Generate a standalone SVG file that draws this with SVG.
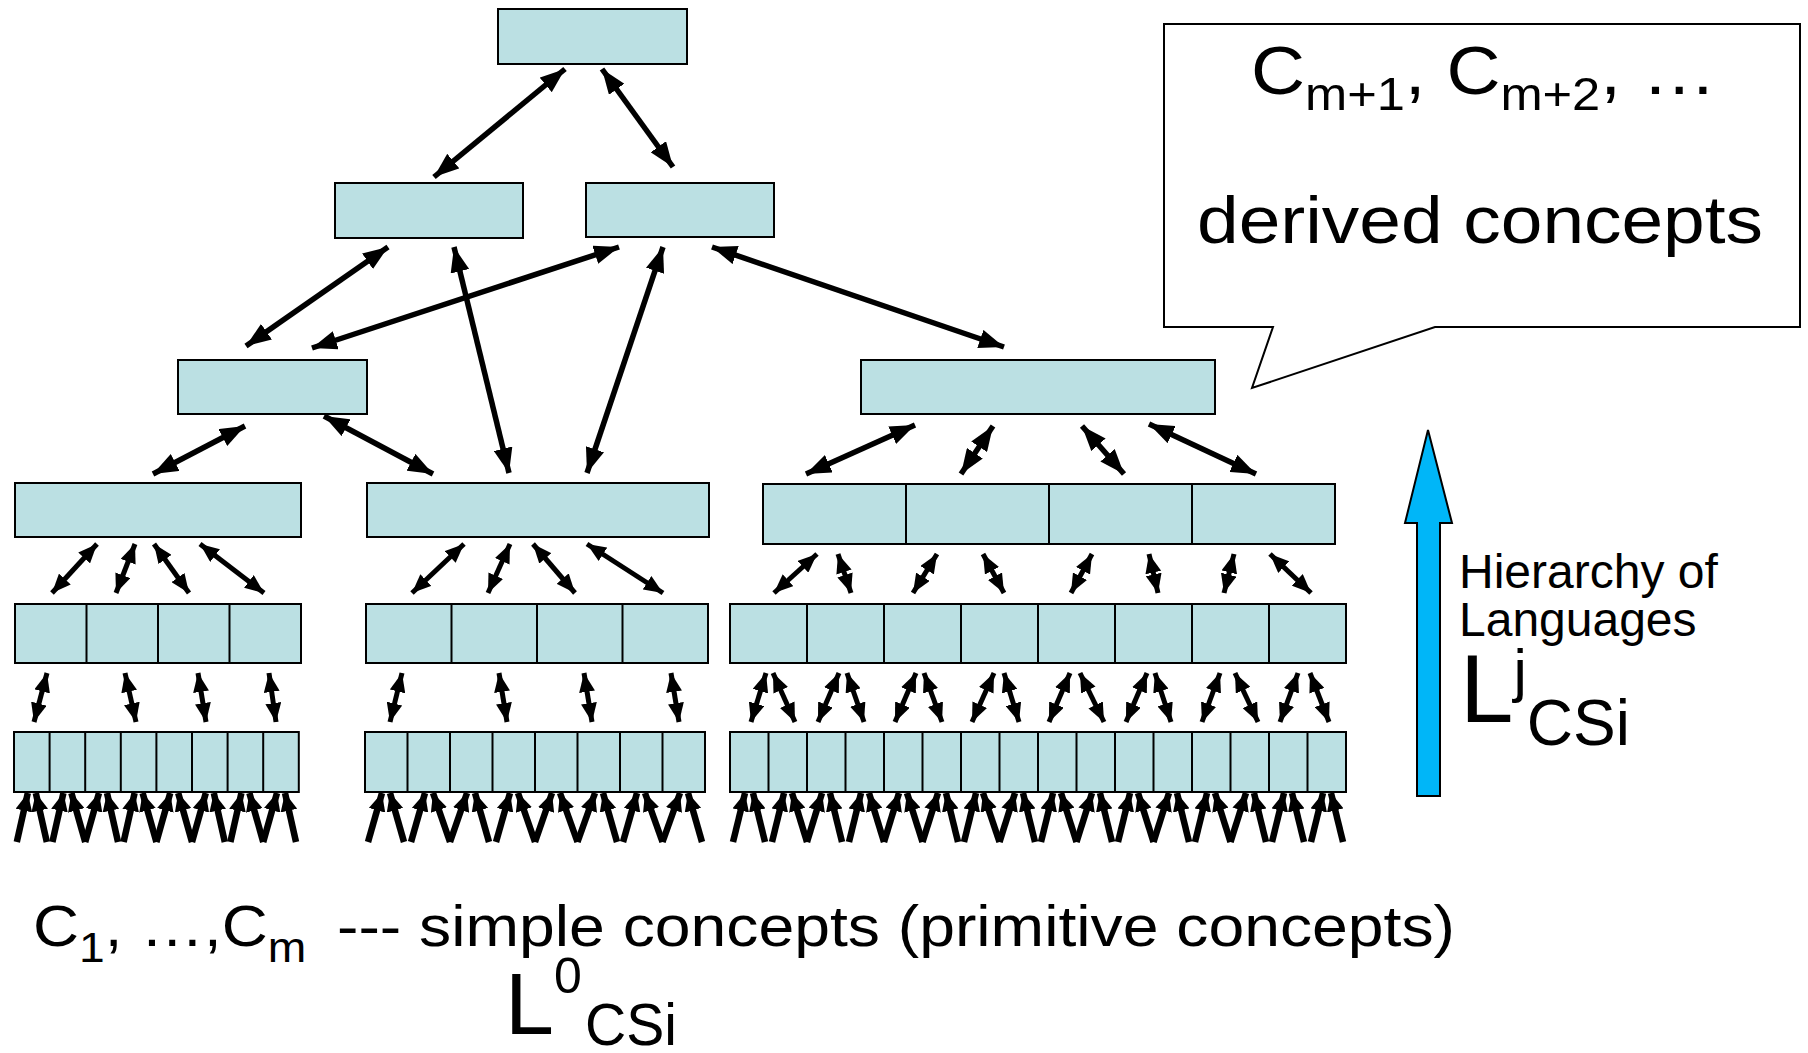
<svg xmlns="http://www.w3.org/2000/svg" width="1808" height="1053" viewBox="0 0 1808 1053">
<defs>
<style>
.box{fill:#BBE0E3;stroke:#000;stroke-width:2}
.dv{stroke:#000;stroke-width:2}
.c{stroke:#000;stroke-width:5.5;fill:none;marker-start:url(#ah);marker-end:url(#ah)}
.s{stroke:#000;stroke-width:5;fill:none;marker-start:url(#ahs);marker-end:url(#ahs)}
.in{stroke:#000;stroke-width:6.5;fill:none;marker-end:url(#ahi)}
.t{font-family:"Liberation Sans",Arial,sans-serif;fill:#000}
</style>
<marker id="ah" viewBox="0 0 25 19" refX="25" refY="9.5" markerWidth="25" markerHeight="19" markerUnits="userSpaceOnUse" orient="auto-start-reverse"><path d="M0,0 L25,9.5 L0,19 Z" fill="#000"/></marker>
<marker id="ahs" viewBox="0 0 19 16" refX="19" refY="8" markerWidth="19" markerHeight="16" markerUnits="userSpaceOnUse" orient="auto-start-reverse"><path d="M0,0 L19,8 L0,16 Z" fill="#000"/></marker>
<marker id="ahi" viewBox="0 0 18 17" refX="18" refY="8.5" markerWidth="18" markerHeight="17" markerUnits="userSpaceOnUse" orient="auto"><path d="M0,0 L18,8.5 L0,17 Z" fill="#000"/></marker>
</defs>
<rect width="1808" height="1053" fill="#fff"/>

<g id="n-top"><rect class="box" x="498" y="9" width="189" height="55"/></g>
<g id="n-l2a"><rect class="box" x="335" y="183" width="188" height="55"/></g>
<g id="n-l2b"><rect class="box" x="586" y="183" width="188" height="54"/></g>
<g id="n-l3a"><rect class="box" x="178" y="360" width="189" height="54"/></g>
<g id="n-l3b"><rect class="box" x="861" y="360" width="354" height="54"/></g>
<g id="n-l4a"><rect class="box" x="15" y="483" width="286" height="54"/></g>
<g id="n-l4b"><rect class="box" x="367" y="483" width="342" height="54"/></g>
<g id="n-l4c"><rect class="box" x="763" y="484" width="572" height="60"/>
<path class="dv" d="M906,484V544M1049,484V544M1192,484V544"/></g>
<g id="n-l5a"><rect class="box" x="15" y="604" width="286" height="59"/>
<path class="dv" d="M86.5,604V663M158,604V663M229.5,604V663"/></g>
<g id="n-l5b"><rect class="box" x="366" y="604" width="342" height="59"/>
<path class="dv" d="M451.5,604V663M537,604V663M622.5,604V663"/></g>
<g id="n-l5c"><rect class="box" x="730" y="604" width="616" height="59"/>
<path class="dv" d="M807,604V663M884,604V663M961,604V663M1038,604V663M1115,604V663M1192,604V663M1269,604V663"/></g>
<g id="n-l6a"><rect class="box" x="14" y="732" width="284.8" height="60"/>
<path class="dv" d="M49.6,732V792M85.2,732V792M120.8,732V792M156.4,732V792M192,732V792M227.6,732V792M263.2,732V792"/></g>
<g id="n-l6b"><rect class="box" x="365" y="732" width="340" height="60"/>
<path class="dv" d="M407.5,732V792M450,732V792M492.5,732V792M535,732V792M577.5,732V792M620,732V792M662.5,732V792"/></g>
<g id="n-l6c"><rect class="box" x="730" y="732" width="616" height="60"/>
<path class="dv" d="M768.5,732V792M807,732V792M845.5,732V792M884,732V792M922.5,732V792M961,732V792M999.5,732V792M1038,732V792M1076.5,732V792M1115,732V792M1153.5,732V792M1192,732V792M1230.5,732V792M1269,732V792M1307.5,732V792"/></g>

<g id="connectors">
<line class="c" x1="565" y1="69" x2="434" y2="177"/>
<line class="c" x1="602" y1="69" x2="673" y2="167"/>
<line class="c" x1="388" y1="247" x2="246" y2="346"/>
<line class="c" x1="619" y1="247" x2="312" y2="348"/>
<line class="c" x1="454" y1="247" x2="509" y2="473"/>
<line class="c" x1="663" y1="247" x2="587" y2="473"/>
<line class="c" x1="712" y1="247" x2="1004" y2="347"/>
<line class="c" x1="245" y1="426" x2="153" y2="474"/>
<line class="c" x1="324" y1="416" x2="433" y2="474"/>
<line class="c" x1="915" y1="425" x2="806" y2="474"/>
<line class="c" x1="993" y1="426" x2="961" y2="474"/>
<line class="c" x1="1082" y1="426" x2="1124" y2="474"/>
<line class="c" x1="1149" y1="424" x2="1256" y2="474"/>

<line class="s" x1="97" y1="544" x2="52" y2="593"/>
<line class="s" x1="135" y1="544" x2="116" y2="593"/>
<line class="s" x1="154" y1="544" x2="189" y2="593"/>
<line class="s" x1="200" y1="544" x2="264" y2="593"/>
<line class="s" x1="464" y1="544" x2="412" y2="593"/>
<line class="s" x1="510" y1="544" x2="488" y2="593"/>
<line class="s" x1="533" y1="544" x2="575" y2="593"/>
<line class="s" x1="587" y1="544" x2="663" y2="593"/>
<line class="s" x1="817" y1="554" x2="774" y2="593"/>
<line class="s" x1="838" y1="554" x2="851" y2="593"/>
<line class="s" x1="937" y1="554" x2="913" y2="593"/>
<line class="s" x1="983" y1="554" x2="1004" y2="593"/>
<line class="s" x1="1092" y1="554" x2="1071" y2="593"/>
<line class="s" x1="1149" y1="554" x2="1158" y2="593"/>
<line class="s" x1="1234" y1="554" x2="1224" y2="593"/>
<line class="s" x1="1270" y1="554" x2="1311" y2="593"/>

<line class="s" x1="47" y1="673" x2="34" y2="722"/>
<line class="s" x1="125" y1="673" x2="136" y2="722"/>
<line class="s" x1="198" y1="673" x2="206" y2="722"/>
<line class="s" x1="269" y1="673" x2="276" y2="722"/>
<line class="s" x1="402" y1="673" x2="390" y2="722"/>
<line class="s" x1="499" y1="673" x2="507" y2="722"/>
<line class="s" x1="584" y1="673" x2="592" y2="722"/>
<line class="s" x1="671" y1="673" x2="679" y2="722"/>
<line class="s" x1="766" y1="673" x2="751" y2="722"/>
<line class="s" x1="773" y1="673" x2="795" y2="722"/>
<line class="s" x1="839" y1="673" x2="818" y2="722"/>
<line class="s" x1="847" y1="673" x2="864" y2="722"/>
<line class="s" x1="916" y1="673" x2="895" y2="722"/>
<line class="s" x1="924" y1="673" x2="942" y2="722"/>
<line class="s" x1="994" y1="673" x2="972" y2="722"/>
<line class="s" x1="1004" y1="673" x2="1019" y2="722"/>
<line class="s" x1="1070" y1="673" x2="1049" y2="722"/>
<line class="s" x1="1080" y1="673" x2="1104" y2="722"/>
<line class="s" x1="1147" y1="673" x2="1126" y2="722"/>
<line class="s" x1="1155" y1="673" x2="1171" y2="722"/>
<line class="s" x1="1220" y1="673" x2="1202" y2="722"/>
<line class="s" x1="1235" y1="673" x2="1258" y2="722"/>
<line class="s" x1="1298" y1="673" x2="1280" y2="722"/>
<line class="s" x1="1310" y1="673" x2="1329" y2="722"/>

<line class="in" x1="16.8" y1="842" x2="27.8" y2="793"/>
<line class="in" x1="46.8" y1="842" x2="35.8" y2="793"/>
<line class="in" x1="52.4" y1="842" x2="63.4" y2="793"/>
<line class="in" x1="85.2" y1="842" x2="71.4" y2="793"/>
<line class="in" x1="85.2" y1="842" x2="99" y2="793"/>
<line class="in" x1="118" y1="842" x2="107" y2="793"/>
<line class="in" x1="123.6" y1="842" x2="134.6" y2="793"/>
<line class="in" x1="156.4" y1="842" x2="142.6" y2="793"/>
<line class="in" x1="156.4" y1="842" x2="170.2" y2="793"/>
<line class="in" x1="192" y1="842" x2="178.2" y2="793"/>
<line class="in" x1="192" y1="842" x2="205.8" y2="793"/>
<line class="in" x1="224.8" y1="842" x2="213.8" y2="793"/>
<line class="in" x1="230.4" y1="842" x2="241.4" y2="793"/>
<line class="in" x1="263.2" y1="842" x2="249.4" y2="793"/>
<line class="in" x1="263.2" y1="842" x2="277" y2="793"/>
<line class="in" x1="296" y1="842" x2="285" y2="793"/>

<line class="in" x1="368" y1="842" x2="382" y2="793"/>
<line class="in" x1="404" y1="842" x2="390" y2="793"/>
<line class="in" x1="411" y1="842" x2="425" y2="793"/>
<line class="in" x1="450" y1="842" x2="433" y2="793"/>
<line class="in" x1="450" y1="842" x2="467" y2="793"/>
<line class="in" x1="489" y1="842" x2="475" y2="793"/>
<line class="in" x1="496" y1="842" x2="510" y2="793"/>
<line class="in" x1="535" y1="842" x2="518" y2="793"/>
<line class="in" x1="535" y1="842" x2="552" y2="793"/>
<line class="in" x1="577.5" y1="842" x2="560" y2="793"/>
<line class="in" x1="577.5" y1="842" x2="595" y2="793"/>
<line class="in" x1="617" y1="842" x2="603" y2="793"/>
<line class="in" x1="623" y1="842" x2="637" y2="793"/>
<line class="in" x1="662.5" y1="842" x2="645" y2="793"/>
<line class="in" x1="662.5" y1="842" x2="680" y2="793"/>
<line class="in" x1="702" y1="842" x2="688" y2="793"/>

<line class="in" x1="733" y1="842" x2="745" y2="793"/>
<line class="in" x1="765" y1="842" x2="753" y2="793"/>
<line class="in" x1="772" y1="842" x2="784" y2="793"/>
<line class="in" x1="807" y1="842" x2="792" y2="793"/>
<line class="in" x1="807" y1="842" x2="822" y2="793"/>
<line class="in" x1="842" y1="842" x2="830" y2="793"/>
<line class="in" x1="849" y1="842" x2="861" y2="793"/>
<line class="in" x1="884" y1="842" x2="869" y2="793"/>
<line class="in" x1="884" y1="842" x2="899" y2="793"/>
<line class="in" x1="922.5" y1="842" x2="907" y2="793"/>
<line class="in" x1="922.5" y1="842" x2="938" y2="793"/>
<line class="in" x1="958" y1="842" x2="946" y2="793"/>
<line class="in" x1="964" y1="842" x2="976" y2="793"/>
<line class="in" x1="999.5" y1="842" x2="983" y2="793"/>
<line class="in" x1="999.5" y1="842" x2="1015" y2="793"/>
<line class="in" x1="1035" y1="842" x2="1023" y2="793"/>
<line class="in" x1="1041" y1="842" x2="1053" y2="793"/>
<line class="in" x1="1076.5" y1="842" x2="1061" y2="793"/>
<line class="in" x1="1076.5" y1="842" x2="1092" y2="793"/>
<line class="in" x1="1112" y1="842" x2="1100" y2="793"/>
<line class="in" x1="1118" y1="842" x2="1130" y2="793"/>
<line class="in" x1="1153.5" y1="842" x2="1138" y2="793"/>
<line class="in" x1="1153.5" y1="842" x2="1169" y2="793"/>
<line class="in" x1="1189" y1="842" x2="1177" y2="793"/>
<line class="in" x1="1195" y1="842" x2="1207" y2="793"/>
<line class="in" x1="1230.5" y1="842" x2="1215" y2="793"/>
<line class="in" x1="1230.5" y1="842" x2="1246" y2="793"/>
<line class="in" x1="1266" y1="842" x2="1254" y2="793"/>
<line class="in" x1="1272" y1="842" x2="1284" y2="793"/>
<line class="in" x1="1304" y1="842" x2="1292" y2="793"/>
<line class="in" x1="1311" y1="842" x2="1323" y2="793"/>
<line class="in" x1="1343" y1="842" x2="1331" y2="793"/>
</g>

<g id="callout">
<path d="M1164,24 H1800 V327 H1435 L1252,388 L1273,327 H1164 Z" fill="#fff" stroke="#000" stroke-width="2"/>
<text class="t" transform="translate(1251,94) scale(1.1,1)" font-size="68">C<tspan font-size="46" dy="16">m+1</tspan><tspan dy="-16">, C</tspan><tspan font-size="46" dy="16">m+2</tspan><tspan dy="-16">, …</tspan></text>
<text class="t" x="1197" y="243" font-size="66" textLength="566" lengthAdjust="spacingAndGlyphs">derived concepts</text>
</g>

<g id="hierarchy-arrow">
<polygon points="1428,430 1452,523 1440,523 1440,796 1417,796 1417,523 1405,523" fill="#00B6F8" stroke="#000" stroke-width="2"/>
<text class="t" x="1459" y="588" font-size="48">Hierarchy of</text>
<text class="t" x="1459" y="636" font-size="48">Languages</text>
<text class="t" x="1460" y="722" font-size="96">L<tspan font-size="60" dy="-31">j</tspan><tspan font-size="64" dy="54">CSi</tspan></text>
</g>

<g id="primitive-label">
<text class="t" transform="translate(33,946) scale(1.1,1)" font-size="58">C<tspan font-size="42" dy="16">1</tspan><tspan dy="-16">, …,C</tspan><tspan font-size="42" dy="16">m</tspan></text>
<text class="t" x="337" y="946" font-size="58" textLength="1118" lengthAdjust="spacingAndGlyphs">--- simple concepts (primitive concepts)</text>
<text class="t" x="505" y="1034" font-size="88">L</text>
<text class="t" x="554" y="993" font-size="50">0</text>
<text class="t" x="585" y="1045" font-size="60" textLength="92" lengthAdjust="spacingAndGlyphs">CSi</text>
</g>
</svg>
